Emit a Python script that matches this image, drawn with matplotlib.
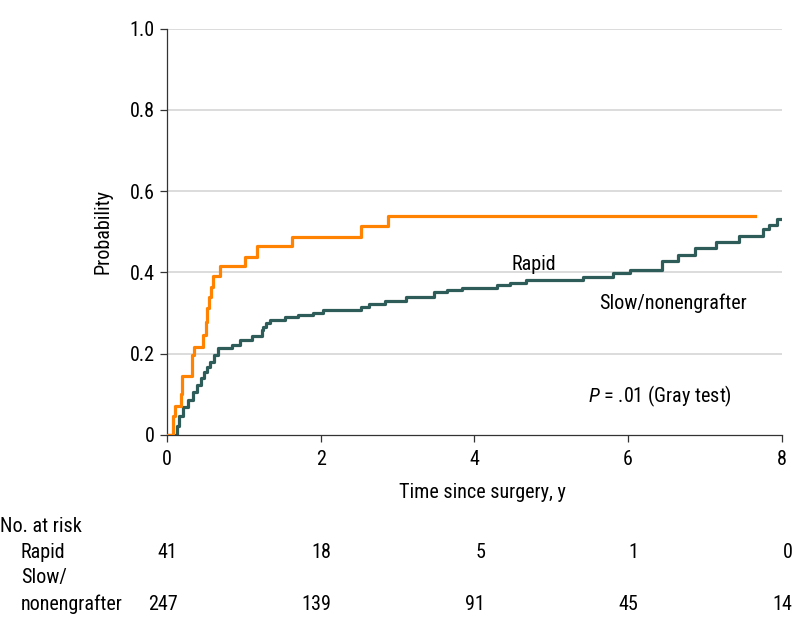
import matplotlib
matplotlib.use("Agg")
import matplotlib.pyplot as plt
import matplotlib.transforms as mtrans
from matplotlib import font_manager

# ---------------- data ----------------
rapid_t = [0, 0.08, 0.11, 0.18, 0.19, 0.20, 0.33, 0.35, 0.47, 0.505, 0.525, 0.55, 0.57,
           0.60, 0.69, 1.02, 1.17, 1.63, 2.52, 2.87, 7.65]
rapid_p = [0, 0.047, 0.071, 0.100, 0.123, 0.145, 0.197, 0.217, 0.246, 0.279, 0.312, 0.340,
           0.363, 0.390, 0.415, 0.439, 0.465, 0.488, 0.514, 0.539, 0.539]

slow_t = [0, 0.125, 0.16, 0.21, 0.276, 0.34, 0.39, 0.437, 0.48, 0.52, 0.557, 0.61, 0.666,
          0.84, 0.947, 1.10, 1.23, 1.25, 1.29, 1.345, 1.53, 1.70, 1.90, 2.03, 2.52, 2.63,
          2.84, 3.11, 3.48, 3.65, 3.84, 4.30, 4.47, 4.67, 5.42, 5.81, 6.03, 6.44, 6.65,
          6.87, 7.15, 7.44, 7.76, 7.83, 7.94, 8.0]
slow_p = [0, 0.021, 0.047, 0.068, 0.086, 0.107, 0.123, 0.139, 0.156, 0.168, 0.180, 0.197,
          0.215, 0.222, 0.233, 0.243, 0.258, 0.266, 0.275, 0.283, 0.290, 0.295, 0.300,
          0.307, 0.315, 0.323, 0.330, 0.340, 0.351, 0.357, 0.361, 0.369, 0.375, 0.381,
          0.389, 0.398, 0.406, 0.429, 0.443, 0.459, 0.476, 0.490, 0.506, 0.517, 0.531, 0.531]

risk_times = [0, 2, 4, 6, 8]
risk_rapid = [41, 18, 5, 1, 0]
risk_slow = [247, 139, 91, 45, 14]

x_ticks = [0, 2, 4, 6, 8]
y_ticks = [0, 0.2, 0.4, 0.6, 0.8, 1.0]
y_ticklabels = ["0", "0.2", "0.4", "0.6", "0.8", "1.0"]

# ---------------- style ----------------
names = {f.name for f in font_manager.fontManager.ttflist}
cands = ["Roboto Condensed", "Liberation Sans Narrow", "Open Sans Condensed", "Lato",
         "DejaVu Sans"]
main_font = next(c for c in cands if c in names)
plt.rcParams["font.family"] = [main_font, "DejaVu Sans"]
plt.rcParams["mathtext.fontset"] = "custom"
plt.rcParams["mathtext.it"] = main_font + ":italic"
plt.rcParams["mathtext.rm"] = main_font

ORANGE = "#FF8200"
TEAL = "#2E5C58"
FS = 14.5

W, H = 794, 629
fig = plt.figure(figsize=(W / 100, H / 100), dpi=100)
left, right = 167 / W, 781.7 / W
bottom, top = 1 - 435 / H, 1 - 28.5 / H
ax = fig.add_axes([left, bottom, right - left, top - bottom])

ax.set_xlim(0, 8)
ax.set_ylim(0, 1.0)
for y in y_ticks[1:]:
    ax.axhline(y, color="#d9d9d9", lw=1.3, zorder=0)

ax.step(rapid_t, rapid_p, where="post", color=ORANGE, lw=2.3, zorder=3)
ax.step(slow_t, slow_p, where="post", color=TEAL, lw=2.3, zorder=2)

ax.set_xticks(x_ticks)
ax.set_xticklabels([str(v) for v in x_ticks])
ax.set_yticks(y_ticks)
ax.set_yticklabels(y_ticklabels)
ax.tick_params(axis="both", labelsize=FS, length=5, width=0.9, color="#333333",
               direction="out")
ax.tick_params(axis="x", pad=6)
ax.tick_params(axis="y", pad=4)
for s in ["top", "right"]:
    ax.spines[s].set_visible(False)
for s in ["left", "bottom"]:
    ax.spines[s].set_linewidth(0.9)
    ax.spines[s].set_color("#333333")

fig.text(103 / W, 1 - 232 / H, "Probability", rotation=90, ha="center", va="center",
         fontsize=FS)
fig.text(482 / W, 1 - 492 / H, "Time since surgery, y", ha="center", va="center",
         fontsize=FS)

ax.text(4.77, 0.42, "Rapid", ha="center", va="center", fontsize=FS)
ax.text(6.58, 0.325, "Slow/nonengrafter", ha="center", va="center", fontsize=FS)
ax.text(6.42, 0.096, r"$P$ = .01 (Gray test)", ha="center", va="center", fontsize=FS)

# number at risk table
trans = mtrans.blended_transform_factory(ax.transData, fig.transFigure)
fig.text(0 / W, 1 - 526 / H, "No. at risk", ha="left", va="center", fontsize=FS)
fig.text(21 / W, 1 - 552 / H, "Rapid", ha="left", va="center", fontsize=FS)
fig.text(21 / W, 1 - 578 / H, "Slow/", ha="left", va="center", fontsize=FS)
fig.text(21 / W, 1 - 604 / H, "nonengrafter", ha="left", va="center", fontsize=FS)
for t, r, s in zip(risk_times, risk_rapid, risk_slow):
    ax.text(t + 0.14, 1 - 552 / H, str(r), transform=trans, ha="right", va="center",
            fontsize=FS)
    ax.text(t + 0.14, 1 - 604 / H, str(s), transform=trans, ha="right", va="center",
            fontsize=FS)

fig.savefig("out.png", dpi=100)
